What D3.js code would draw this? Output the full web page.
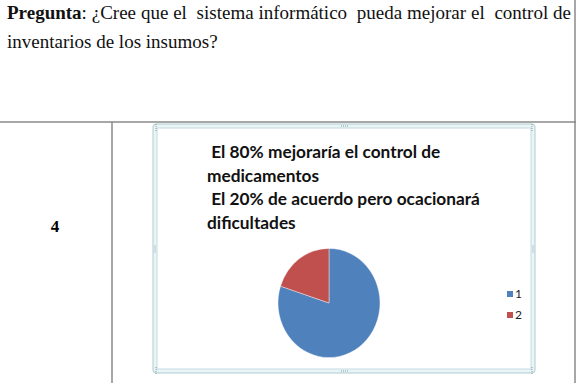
<!DOCTYPE html>
<html>
<head>
<meta charset="utf-8">
<script src="https://cdn.jsdelivr.net/npm/d3@7"></script>
<style>
  html, body { margin: 0; padding: 0; background: #fff; }
  #wrap { position: relative; width: 577px; height: 383px; overflow: hidden; }
  #question {
    position: absolute; left: 7px; top: -1px; width: 564px;
    font-family: "Liberation Serif", "Times New Roman", serif;
    font-size: 19px; line-height: 28.5px; text-align: justify; color: #111;
    white-space: pre-wrap;
  }
  svg { position: absolute; left: 0; top: 0; }
</style>
</head>
<body>
<div id="wrap">
  <svg id="chart" width="577" height="383"></svg>
  <div id="question"></div>
</div>
<script>
  const questionLabel = "Pregunta";
  const questionText = ": ¿Cree que el  sistema informático  pueda mejorar el  control de inventarios de los insumos?";
  const rowNumber = "4";
  const titleLines = [" El 80% mejoraría el control de", "medicamentos", " El 20% de acuerdo pero ocacionará", "dificultades"];
  const categories = ["1", "2"];
  const values = [80, 20];
  const colors = ["#4F81BD", "#C0504D"];

  d3.select("#question")
    .html("<b>" + questionLabel + "</b>" + questionText);

  const svg = d3.select("#chart");

  // table lines
  const lineCol = "#8a8a8a";
  svg.append("line").attr("x1", 0).attr("x2", 576).attr("y1", 122).attr("y2", 122)
    .attr("stroke", lineCol).attr("stroke-width", 1.5);
  svg.append("line").attr("x1", 112).attr("x2", 112).attr("y1", 122).attr("y2", 383)
    .attr("stroke", lineCol).attr("stroke-width", 1.5);
  svg.append("line").attr("x1", 575).attr("x2", 575).attr("y1", 0).attr("y2", 383)
    .attr("stroke", lineCol).attr("stroke-width", 1.5);

  svg.append("text")
    .attr("x", 55).attr("y", 232)
    .attr("text-anchor", "middle")
    .attr("font-family", "Liberation Serif, serif")
    .attr("font-weight", "bold")
    .attr("font-size", 17)
    .text(rowNumber);

  // excel-like chart frame
  const fx = 153, fy = 124, fw = 382, fh = 249;
  svg.append("rect").attr("x", fx).attr("y", fy).attr("width", fw).attr("height", fh)
    .attr("rx", 3).attr("fill", "#eaf5f6").attr("stroke", "#afcbd2");
  svg.append("rect").attr("x", fx + 4).attr("y", fy + 4).attr("width", fw - 8).attr("height", fh - 8)
    .attr("fill", "#fff").attr("stroke", "#c2dae0");

  // handle dots
  const dots = [[fx + fw / 2, fy + 2], [fx + fw / 2, fy + fh - 2], [fx + 2, fy + fh / 2], [fx + fw - 2, fy + fh / 2],
    [fx + 3, fy + 3], [fx + fw - 3, fy + 3], [fx + 3, fy + fh - 3], [fx + fw - 3, fy + fh - 3]];
  dots.forEach(([x, y], i) => {
    const horiz = i < 2;
    for (let k = -1.5; k <= 1.5; k++) {
      svg.append("rect")
        .attr("x", horiz ? x + k * 2 : x - 0.5)
        .attr("y", horiz ? y - 0.5 : y + k * 2)
        .attr("width", 1).attr("height", 1).attr("fill", "#7f9aa2");
    }
  });

  // title
  const title = svg.append("text")
    .attr("font-family", "Lato, 'Open Sans', sans-serif")
    .attr("font-weight", "bold")
    .attr("font-size", 17)
    .attr("fill", "#111")
    .style("white-space", "pre");
  title.selectAll("tspan")
    .data(titleLines)
    .join("tspan")
    .attr("x", 207)
    .attr("y", (d, i) => 158 + i * 23.6)
    .text(d => d);

  // fit width of the longest line to the reference
  const probe = title.selectAll("tspan").nodes()[2];
  const w = probe.getComputedTextLength();
  if (w > 0) title.attr("font-size", 17 * 273 / w);

  // pie
  const pie = d3.pie().sort(null).value(d => d)(values);
  const arc = d3.arc().innerRadius(0).outerRadius(51);
  svg.append("g")
    .attr("transform", "translate(329,303) scale(1,1.07)")
    .selectAll("path")
    .data(pie)
    .join("path")
    .attr("d", arc)
    .attr("fill", (d, i) => colors[i])
    .attr("stroke", "#fff")
    .attr("stroke-width", 0.4);

  // legend
  const legend = svg.append("g").attr("transform", "translate(507,291)");
  const item = legend.selectAll("g")
    .data(categories)
    .join("g")
    .attr("transform", (d, i) => `translate(0,${i * 21})`);
  item.append("rect").attr("width", 6).attr("height", 6).attr("fill", (d, i) => colors[i]);
  item.append("text")
    .attr("x", 8).attr("y", 7)
    .attr("font-family", "Lato, sans-serif")
    .attr("font-size", 12)
    .attr("fill", "#222")
    .text(d => d);
</script>
</body>
</html>
